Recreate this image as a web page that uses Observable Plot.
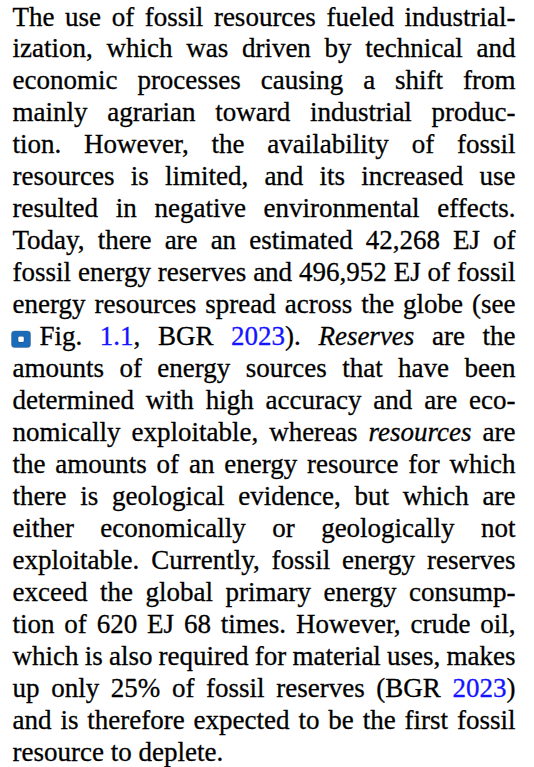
<!DOCTYPE html>
<html>
<head>
<meta charset="utf-8">
<script src="https://cdn.jsdelivr.net/npm/d3@7"></script>
<script src="https://cdn.jsdelivr.net/npm/@observablehq/plot@0.6"></script>
<style>
  html, body { margin: 0; padding: 0; background: #ffffff; }
  #chart svg { display: block; }
  #chart svg text, #chart svg tspan { font-family: "Liberation Serif", "Times New Roman", Times, serif !important; }
</style>
</head>
<body>
<div id="chart"></div>
<script>
// Text lines as typeset in the reference (markup: {icon}, [link], _italic_)
const lines = [
  "The use of fossil resources fueled industrial-",
  "ization, which was driven by technical and",
  "economic processes causing a shift from",
  "mainly agrarian toward industrial produc-",
  "tion. However, the availability of fossil",
  "resources is limited, and its increased use",
  "resulted in negative environmental effects.",
  "Today, there are an estimated 42,268 EJ of",
  "fossil energy reserves and 496,952 EJ of fossil",
  "energy resources spread across the globe (see",
  "{icon}Fig. [1.1], BGR [2023]). _Reserves_ are the",
  "amounts of energy sources that have been",
  "determined with high accuracy and are eco-",
  "nomically exploitable, whereas _resources_ are",
  "the amounts of an energy resource for which",
  "there is geological evidence, but which are",
  "either economically or geologically not",
  "exploitable. Currently, fossil energy reserves",
  "exceed the global primary energy consump-",
  "tion of 620 EJ 68 times. However, crude oil,",
  "which is also required for material uses, makes",
  "up only 25% of fossil reserves (BGR [2023])",
  "and is therefore expected to be the first fossil",
  "resource to deplete."
];

const rows = lines.map((t, i) => ({t, i}));

const chart = Plot.plot({
  width: 534,
  height: 767,
  margin: 0,
  x: {domain: [0, 1], range: [12, 515], axis: null},
  y: {domain: [0, lines.length - 1], range: [25, 760], axis: null},
  style: {background: "#ffffff", fontFamily: "'Liberation Serif', serif", fontSize: "27px"},
  marks: [
    Plot.text(rows, {
      x: () => 0,
      y: d => d.i,
      text: d => d.t,
      textAnchor: "start",
      lineAnchor: "bottom",
      fontFamily: "'Liberation Serif', serif",
      fontSize: 27,
      fill: "#000000",
      stroke: "#000000",
      strokeWidth: 0.3
    })
  ]
});
document.getElementById("chart").appendChild(chart);

// Rich text + justification
const NS = "http://www.w3.org/2000/svg";
const W = 503;
const texts = chart.querySelectorAll('g[aria-label="text"] text');
texts.forEach((el, k) => {
  const raw = lines[k];
  el.style.fontSize = "27px";
  el.textContent = "";
  const parts = raw.split(/(\{icon\}|\[[^\]]+\]|_[^_]+_)/).filter(s => s.length);
  let hasIcon = false;
  for (const p of parts) {
    const ts = document.createElementNS(NS, "tspan");
    if (p === "{icon}") {
      ts.textContent = "\u2003";
      hasIcon = true;
    } else if (p[0] === "[") {
      ts.textContent = p.slice(1, -1);
      ts.setAttribute("fill", "#1414ff");
      ts.setAttribute("stroke", "#1414ff");
    } else if (p[0] === "_") {
      ts.textContent = p.slice(1, -1);
      ts.setAttribute("font-style", "italic");
    } else {
      ts.textContent = p;
    }
    el.appendChild(ts);
  }
  if (k < lines.length - 1) {
    const len = el.getComputedTextLength();
    const spaces = (el.textContent.match(/ /g) || []).length;
    if (spaces > 0) el.style.wordSpacing = ((W - len) / spaces) + "px";
  }
  if (hasIcon) {
    const tr = el.getAttribute("transform");
    const g = document.createElementNS(NS, "g");
    if (tr) g.setAttribute("transform", tr);
    const r = document.createElementNS(NS, "rect");
    r.setAttribute("x", -1); r.setAttribute("y", -14);
    r.setAttribute("width", 19); r.setAttribute("height", 16.5);
    r.setAttribute("rx", 3); r.setAttribute("fill", "#1c6bb8");
    const w = document.createElementNS(NS, "rect");
    w.setAttribute("x", 5.8); w.setAttribute("y", -8.5);
    w.setAttribute("width", 5.5); w.setAttribute("height", 5.5);
    w.setAttribute("rx", 1.2); w.setAttribute("fill", "#ffffff");
    g.appendChild(r); g.appendChild(w);
    el.parentNode.appendChild(g);
  }
});
</script>
</body>
</html>
